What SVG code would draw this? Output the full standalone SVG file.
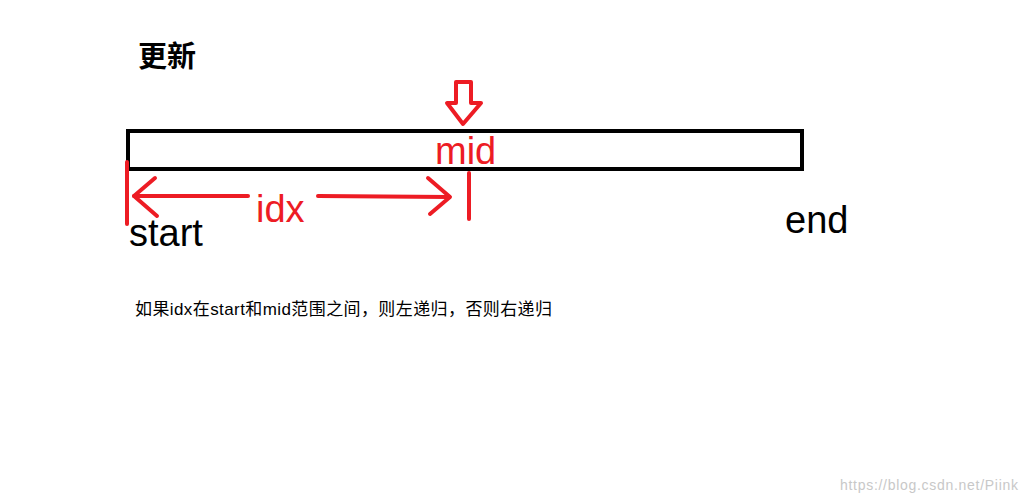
<svg xmlns="http://www.w3.org/2000/svg" width="1029" height="504" viewBox="0 0 1029 504">
<style>
.r{stroke:#ed1c24;stroke-width:4;fill:none;stroke-linecap:round;stroke-linejoin:round}
.t{font-family:"Liberation Sans","Noto Sans CJK SC",sans-serif}
</style>
<rect width="1029" height="504" fill="#fff"/>
<text class="t" x="138" y="67" font-size="29" font-weight="bold">更新</text>
<g id="bar"><rect x="128" y="131" width="674" height="38" fill="none" stroke="#000" stroke-width="4"/></g>
<g id="connectors">
<path class="r" d="M456,82 H471 V103 H481 L463,124 L447,103 H456 Z" stroke-width="3"/>
<line class="r" x1="127" y1="162" x2="127" y2="224"/>
<line class="r" x1="469" y1="173" x2="469" y2="219"/>
<line class="r" x1="134" y1="196" x2="248" y2="196"/>
<line class="r" x1="318" y1="196" x2="449" y2="197"/>
<polyline class="r" points="155,178 134,196 157,216"/>
<polyline class="r" points="428,178 450,197 430,214"/>
</g>
<text class="t" x="435" y="164" font-size="38" fill="#ed1c24">mid</text>
<text class="t" x="256" y="222" font-size="38" fill="#ed1c24">idx</text>
<text class="t" x="129" y="246" font-size="38">start</text>
<text class="t" x="785" y="233" font-size="38">end</text>
<text class="t" x="135" y="315" font-size="17" textLength="417">如果idx在start和mid范围之间，则左递归，否则右递归</text>
<text class="t" x="840" y="490" font-size="14" fill="#c8c8c8" textLength="178">https://blog.csdn.net/Piink</text>
</svg>
